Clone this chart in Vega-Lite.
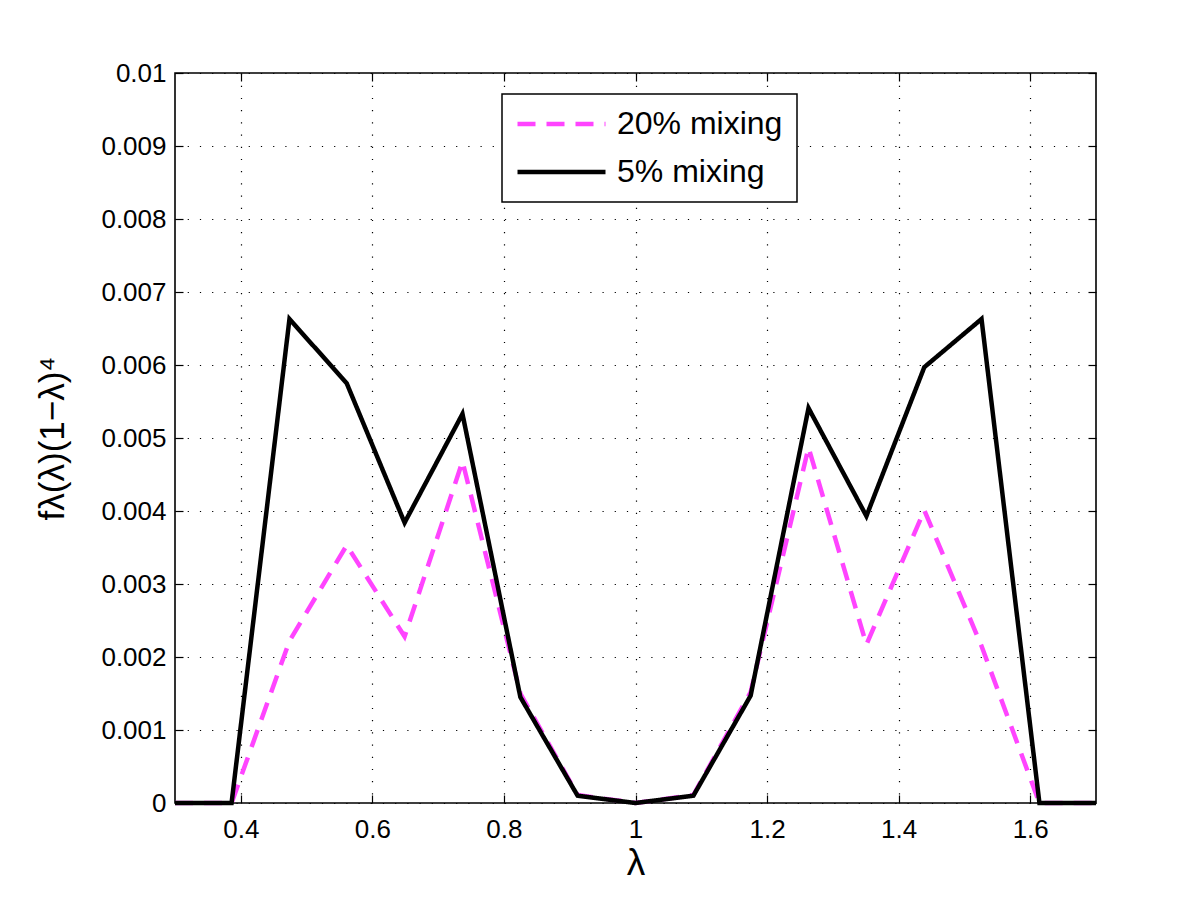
{
  "$schema": "https://vega.github.io/schema/vega-lite/v6.json",
  "width": 921,
  "height": 730,
  "autosize": {"type": "none"},
  "padding": {"left": 175, "top": 73, "right": 99, "bottom": 94},
  "background": "white",
  "data": {
    "values": [
      {"series": "20% mixing", "lam": 0.3, "val": 0},
      {"series": "20% mixing", "lam": 0.386, "val": 0},
      {"series": "20% mixing", "lam": 0.474, "val": 0.00222},
      {"series": "20% mixing", "lam": 0.561, "val": 0.00353},
      {"series": "20% mixing", "lam": 0.649, "val": 0.00228},
      {"series": "20% mixing", "lam": 0.737, "val": 0.00468},
      {"series": "20% mixing", "lam": 0.825, "val": 0.0015},
      {"series": "20% mixing", "lam": 0.912, "val": 0.00011},
      {"series": "20% mixing", "lam": 1.0, "val": 0},
      {"series": "20% mixing", "lam": 1.088, "val": 0.00011},
      {"series": "20% mixing", "lam": 1.175, "val": 0.00152},
      {"series": "20% mixing", "lam": 1.263, "val": 0.00487},
      {"series": "20% mixing", "lam": 1.351, "val": 0.00217},
      {"series": "20% mixing", "lam": 1.439, "val": 0.00401},
      {"series": "20% mixing", "lam": 1.526, "val": 0.00215},
      {"series": "20% mixing", "lam": 1.614, "val": 0},
      {"series": "20% mixing", "lam": 1.7, "val": 0},
      {"series": "5% mixing", "lam": 0.3, "val": 0},
      {"series": "5% mixing", "lam": 0.386, "val": 0},
      {"series": "5% mixing", "lam": 0.474, "val": 0.00663},
      {"series": "5% mixing", "lam": 0.561, "val": 0.00575},
      {"series": "5% mixing", "lam": 0.649, "val": 0.00384},
      {"series": "5% mixing", "lam": 0.737, "val": 0.00533},
      {"series": "5% mixing", "lam": 0.825, "val": 0.00145},
      {"series": "5% mixing", "lam": 0.912, "val": 0.0001},
      {"series": "5% mixing", "lam": 1.0, "val": 0},
      {"series": "5% mixing", "lam": 1.088, "val": 0.0001},
      {"series": "5% mixing", "lam": 1.175, "val": 0.00147},
      {"series": "5% mixing", "lam": 1.263, "val": 0.00541},
      {"series": "5% mixing", "lam": 1.351, "val": 0.00393},
      {"series": "5% mixing", "lam": 1.439, "val": 0.00597},
      {"series": "5% mixing", "lam": 1.526, "val": 0.00663},
      {"series": "5% mixing", "lam": 1.614, "val": 0},
      {"series": "5% mixing", "lam": 1.7, "val": 0}
    ]
  },
  "layer": [
    {
      "transform": [{"filter": "datum.series === '20% mixing'"}],
      "mark": {"type": "line"},
      "encoding": {
        "x": {
          "field": "lam", "type": "quantitative",
          "scale": {"domain": [0.3, 1.7], "nice": false, "zero": false},
          "axis": {
            "orient": "bottom", "values": [0.4, 0.6, 0.8, 1, 1.2, 1.4, 1.6], "format": ".1~f",
            "grid": true, "tickSize": -8, "labelPadding": 21,
            "title": "λ", "titleFontSize": 37, "titlePadding": 3
          }
        },
        "y": {
          "field": "val", "type": "quantitative",
          "scale": {"domain": [0, 0.01], "nice": false, "zero": false},
          "axis": {
            "orient": "left", "values": [0, 0.001, 0.002, 0.003, 0.004, 0.005, 0.006, 0.007, 0.008, 0.009, 0.01],
            "format": ".3~f", "grid": true, "tickSize": -8, "labelPadding": 17,
            "title": "fλ(λ)(1−λ)⁴", "titleFontSize": 35, "titlePadding": 30
          }
        },
        "color": {
          "field": "series", "type": "nominal",
          "scale": {"domain": ["20% mixing", "5% mixing"], "range": ["#ff44ff", "#000000"]},
          "legend": {"title": null}
        },
        "strokeDash": {
          "field": "series", "type": "nominal",
          "scale": {"domain": ["20% mixing", "5% mixing"], "range": [[18, 11], [1, 0]]},
          "legend": {"title": null}
        }
      }
    },
    {
      "transform": [{"filter": "datum.series === '5% mixing'"}],
      "mark": {"type": "line"},
      "encoding": {
        "x": {
          "field": "lam", "type": "quantitative",
          "axis": {
            "orient": "top", "values": [0.4, 0.6, 0.8, 1, 1.2, 1.4, 1.6],
            "grid": false, "labels": false, "tickSize": -8, "title": null
          }
        },
        "y": {
          "field": "val", "type": "quantitative",
          "axis": {
            "orient": "right", "values": [0, 0.001, 0.002, 0.003, 0.004, 0.005, 0.006, 0.007, 0.008, 0.009, 0.01],
            "grid": false, "labels": false, "tickSize": -8, "title": null
          }
        },
        "color": {"field": "series", "type": "nominal", "legend": {"title": null}},
        "strokeDash": {"field": "series", "type": "nominal", "legend": {"title": null}}
      }
    }
  ],
  "resolve": {"axis": {"x": "independent", "y": "independent"}},
  "config": {
    "view": {"stroke": "#000000", "strokeWidth": 1.6},
    "line": {"strokeWidth": 4.5, "strokeCap": "butt", "strokeJoin": "miter"},
    "axis": {
      "domain": false,
      "labelFont": "Liberation Sans", "labelFontSize": 26, "labelColor": "#000000",
      "tickColor": "#000000", "tickWidth": 1.2,
      "gridColor": "#000000", "gridDash": [1.2, 11], "gridWidth": 1.2, "gridOpacity": 1,
      "titleFont": "Liberation Sans", "titleColor": "#000000", "titleFontWeight": "normal"
    },
    "legend": {
      "orient": "none", "legendX": 327, "legendY": 21,
      "padding": 14, "rowPadding": 16,
      "symbolType": "M-4,0H4", "symbolSize": 484, "symbolStrokeWidth": 4.5,
      "symbolOffset": 29.5, "labelOffset": 39.5, "labelLimit": 0,
      "labelFont": "Liberation Sans", "labelFontSize": 32, "labelColor": "#000000",
      "strokeColor": "#000000", "fillColor": "#ffffff", "strokeWidth": 1.5
    }
  }
}
